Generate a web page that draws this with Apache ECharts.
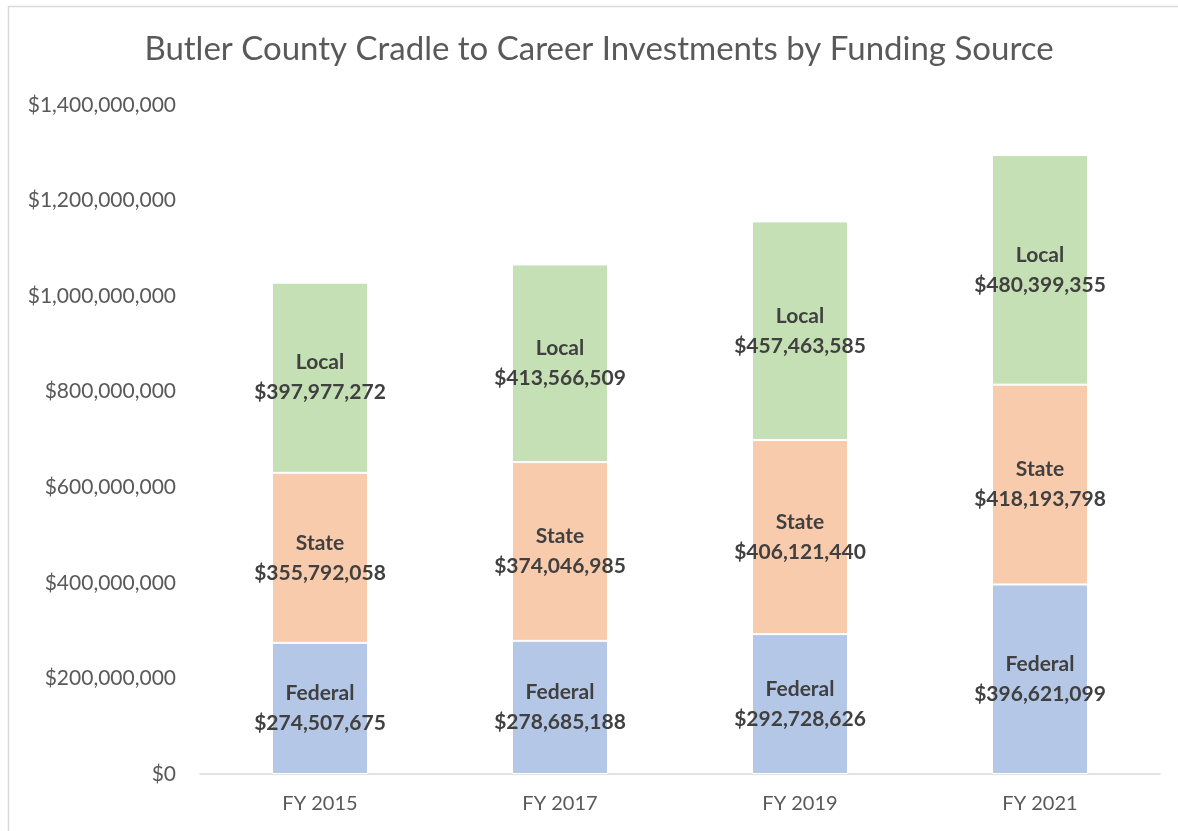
<!DOCTYPE html>
<html>
<head>
<meta charset="utf-8">
<script src="https://cdn.jsdelivr.net/npm/echarts@6/dist/echarts.min.js"></script>
<style>
  html, body { margin: 0; padding: 0; background: #fff; }
  #app { width: 1178px; height: 831px; }
</style>
</head>
<body>
<div id="app"></div>
<script>
var categories = ['FY 2015', 'FY 2017', 'FY 2019', 'FY 2021'];
var federal = [274507675, 278685188, 292728626, 396621099];
var state = [355792058, 374046985, 406121440, 418193798];
var local = [397977272, 413566509, 457463585, 480399355];
var yTicks = [0, 200000000, 400000000, 600000000, 800000000, 1000000000, 1200000000, 1400000000];

var FONT = 'Lato, "Open Sans", sans-serif';

function money(v) {
  return '$' + Math.round(v).toString().replace(/\B(?=(\d{3})+(?!\d))/g, ',');
}

function makeSeries(name, data, color) {
  return {
    name: name,
    type: 'bar',
    stack: 'total',
    barWidth: '40%',
    data: data,
    itemStyle: { color: color, borderColor: '#ffffff', borderWidth: 1 },
    label: {
      show: true,
      position: 'inside',
      color: '#404040',
      fontFamily: FONT,
      fontWeight: 'bold',
      fontSize: 21,
      lineHeight: 30,
      formatter: function (p) { return name + '\n' + money(p.value); }
    }
  };
}

var chart = echarts.init(document.getElementById('app'), null, { renderer: 'canvas' });
var option = {
  backgroundColor: '#ffffff',
  animation: false,
  graphic: [{
    type: 'rect',
    shape: { x: 8.5, y: 6.5, width: 1200, height: 900 },
    style: { fill: 'none', stroke: '#d9d9d9', lineWidth: 1.5 },
    silent: true
  }],
  title: {
    text: 'Butler County Cradle to Career Investments by Funding Source',
    left: 594,
    textAlign: 'center',
    top: 28,
    textStyle: { fontFamily: FONT, fontWeight: 'normal', fontSize: 33, color: '#595959' }
  },
  legend: { show: false },
  grid: { left: 200, right: 18, top: 105, bottom: 57, containLabel: false },
  xAxis: {
    type: 'category',
    data: categories,
    axisLine: { lineStyle: { color: '#d9d9d9', width: 1.5 } },
    axisTick: { show: false },
    axisLabel: { color: '#595959', fontFamily: FONT, fontSize: 20, margin: 20 }
  },
  yAxis: {
    type: 'value',
    min: yTicks[0],
    max: yTicks[yTicks.length - 1],
    interval: yTicks[1] - yTicks[0],
    splitLine: { show: false },
    axisLine: { show: false },
    axisTick: { show: false },
    axisLabel: { color: '#595959', fontFamily: FONT, fontSize: 21, margin: 24, formatter: money }
  },
  series: [
    makeSeries('Federal', federal, '#b4c7e7'),
    makeSeries('State', state, '#f8cbad'),
    makeSeries('Local', local, '#c5e0b4')
  ]
};
chart.setOption(option);
</script>
</body>
</html>
